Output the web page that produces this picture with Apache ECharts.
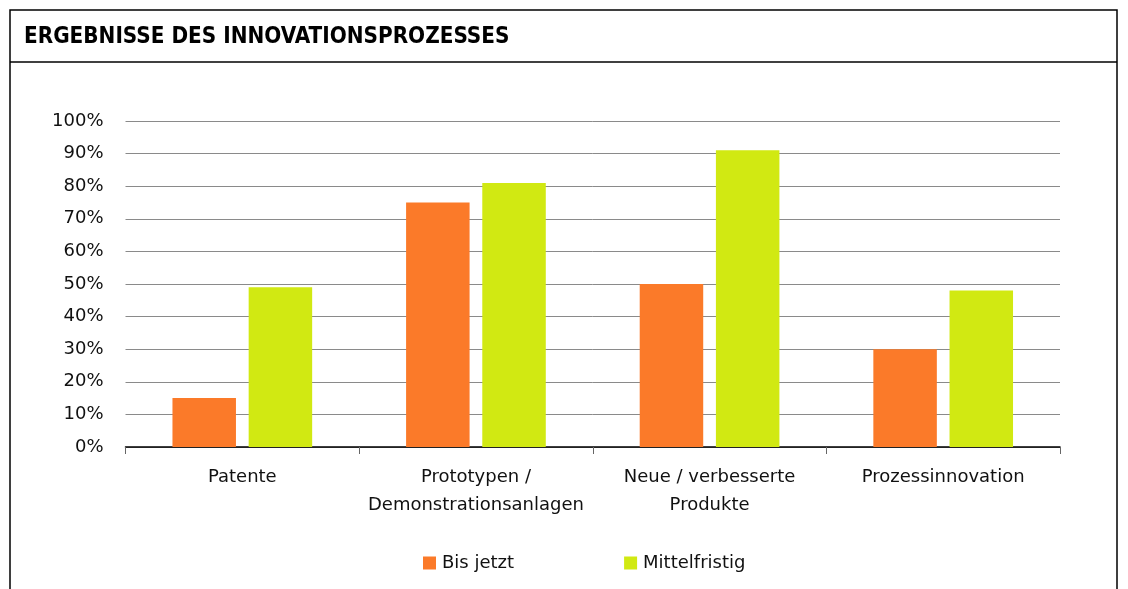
<!DOCTYPE html>
<html>
<head>
<meta charset="utf-8">
<script src="https://cdn.jsdelivr.net/npm/echarts@6/dist/echarts.min.js"></script>
<style>
  html, body { margin: 0; padding: 0; background: #fff; }
  #chart { width: 1128px; height: 589px; }
</style>
</head>
<body>
<div id="chart"></div>
<script>
// Results of the innovation process (share of respondents, %)
const categories = ['Patente', 'Prototypen /\nDemonstrationsanlagen', 'Neue / verbesserte\nProdukte', 'Prozessinnovation'];
const seriesNames = ['Bis jetzt', 'Mittelfristig'];
const bisJetzt = [15, 75, 50, 30];
const mittelfristig = [49, 81, 91, 48];
const titleText = 'ERGEBNISSE DES INNOVATIONSPROZESSES';

const FONT = '"DejaVu Sans", sans-serif';
const TITLE_FONT = '"DejaVu Sans Condensed", "Liberation Sans Narrow", "DejaVu Sans", sans-serif';
const ORANGE = '#FB7A29';
const LIME = '#D1E912';

const chart = echarts.init(document.getElementById('chart'), null, { renderer: 'canvas' });

chart.setOption({
  backgroundColor: '#fff',
  animation: false,
  textStyle: { fontFamily: FONT },
  graphic: [
    // frame around the panel and the title bar separator
    { type: 'rect', shape: { x: 10, y: 10, width: 1107, height: 600 },
      style: { fill: 'none', stroke: '#000', lineWidth: 1.5 } },
    { type: 'line', shape: { x1: 10, y1: 62, x2: 1117, y2: 62 },
      style: { stroke: '#000', lineWidth: 1.5 } }
  ],
  title: {
    text: titleText,
    left: 19,
    top: 21,
    textStyle: { fontFamily: TITLE_FONT, fontWeight: 'bold', fontSize: 22.3, color: '#000' }
  },
  legend: {
    data: seriesNames,
    left: 423,
    top: 554,
    padding: 0,
    itemWidth: 13,
    itemHeight: 13,
    itemGap: 110,
    icon: 'rect',
    textStyle: { fontFamily: FONT, fontSize: 18, color: '#111', padding: [0, 0, 0, 1] }
  },
  grid: { left: 125.5, right: 68, top: 121, bottom: 142, containLabel: false },
  xAxis: {
    type: 'category',
    data: categories,
    boundaryGap: true,
    axisLine: { lineStyle: { color: '#000', width: 1.5 } },
    axisTick: { show: true, length: 7, interval: 0, lineStyle: { color: '#666' } },
    axisLabel: {
      interval: 0,
      fontFamily: FONT, fontSize: 18, color: '#111', margin: 16, lineHeight: 28
    }
  },
  yAxis: {
    type: 'value',
    min: 0,
    max: 100,
    interval: 10,
    axisLine: { show: false },
    axisTick: { show: false },
    axisLabel: {
      formatter: '{value}%',
      fontFamily: FONT, fontSize: 18, color: '#111', margin: 22
    },
    splitLine: { lineStyle: { color: '#8a8a8a', width: 1 } }
  },
  series: [
    { name: seriesNames[0], type: 'bar', data: bisJetzt, barWidth: 63.5, barGap: '20%',
      itemStyle: { color: ORANGE } },
    { name: seriesNames[1], type: 'bar', data: mittelfristig, barWidth: 63.5, barGap: '20%',
      itemStyle: { color: LIME } }
  ]
});
</script>
</body>
</html>
